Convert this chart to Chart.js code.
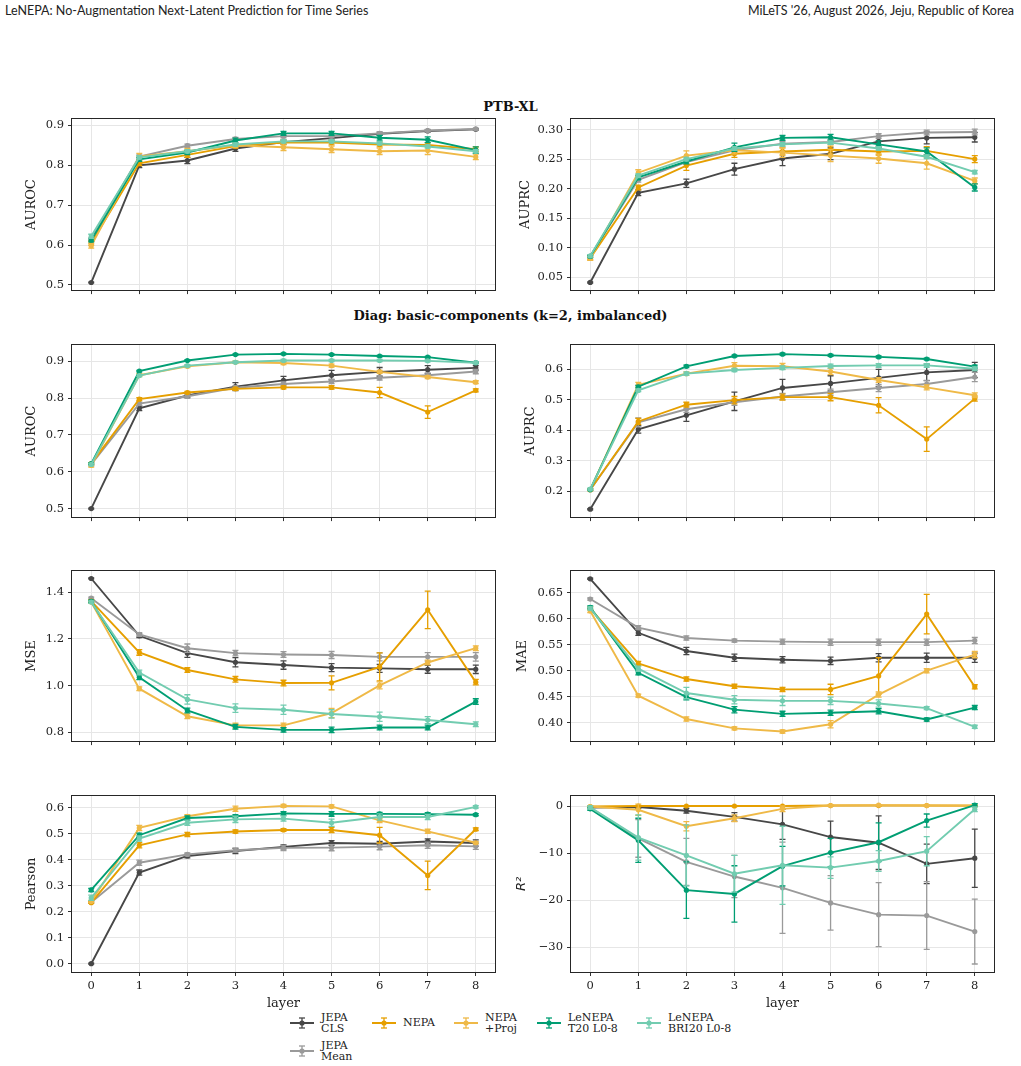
<!DOCTYPE html>
<html>
<head>
<meta charset="utf-8">
<script src="https://cdn.jsdelivr.net/npm/chart.js@4.4.1/dist/chart.umd.min.js"></script>
<style>
  body { margin: 0; background: #fff; width: 1021px; height: 1066px; position: relative; overflow: hidden; }
  .hdr { position: absolute; top: 3px; font-family: Lato, sans-serif; font-size: 12.5px; color: #222; white-space: nowrap; }
  .sec { position: absolute; left: 0; width: 1021px; text-align: center; font-family: 'DejaVu Serif', serif; font-weight: bold; font-size: 13px; color: #111; }
  canvas { position: absolute; }
  .leg { position: absolute; font-family: 'DejaVu Serif', serif; font-size: 11px; line-height: 11.5px; color: #222; white-space: nowrap; }
  .ico { position: absolute; }
</style>
</head>
<body>
<div class="hdr" style="left:5px">LeNEPA: No-Augmentation Next-Latent Prediction for Time Series</div>
<div class="hdr" style="right:7px">MiLeTS '26, August 2026, Jeju, Republic of Korea</div>
<div class="sec" style="top:99px">PTB-XL</div>
<div class="sec" style="top:308px">Diag: basic-components (k=2, imbalanced)</div>
<div id="legend"></div>

<script>
// --- datos ---
const layers = [0, 1, 2, 3, 4, 5, 6, 7, 8];
const seriesNames = ['JEPA\nCLS', 'JEPA\nMean', 'NEPA', 'NEPA\n+Proj', 'LeNEPA\nT20 L0-8', 'LeNEPA\nBRI20 L0-8'];
const seriesColors = ['#474747', '#9a9a9a', '#E69F00', '#EFB947', '#009E73', '#72CCB0'];
const serif = "'DejaVu Serif', serif";

// orden de filas: JEPA CLS, JEPA Mean, NEPA, NEPA+Proj, LeNEPA T20, LeNEPA BRI20
const ptbAuroc = [
  [0.506, 0.800, 0.812, 0.842, 0.858, 0.868, 0.879, 0.886, 0.890],
  [0.615, 0.822, 0.849, 0.866, 0.873, 0.873, 0.880, 0.887, 0.891],
  [0.605, 0.805, 0.826, 0.848, 0.857, 0.857, 0.852, 0.851, 0.840],
  [0.598, 0.822, 0.835, 0.850, 0.845, 0.840, 0.835, 0.837, 0.821],
  [0.612, 0.815, 0.832, 0.862, 0.880, 0.880, 0.869, 0.864, 0.838],
  [0.622, 0.820, 0.835, 0.852, 0.860, 0.860, 0.855, 0.847, 0.835]
];
const ptbAurocErr = [
  [0.001, 0.006, 0.008, 0.007, 0.005, 0.005, 0.004, 0.003, 0.002],
  [0.003, 0.004, 0.004, 0.004, 0.004, 0.004, 0.003, 0.003, 0.002],
  [0.005, 0.006, 0.006, 0.005, 0.006, 0.006, 0.006, 0.005, 0.006],
  [0.006, 0.008, 0.007, 0.006, 0.008, 0.008, 0.008, 0.010, 0.007],
  [0.004, 0.005, 0.005, 0.006, 0.005, 0.005, 0.006, 0.007, 0.008],
  [0.005, 0.004, 0.004, 0.004, 0.004, 0.004, 0.004, 0.004, 0.004]
];
const ptbAuprc = [
  [0.041, 0.193, 0.209, 0.233, 0.251, 0.259, 0.280, 0.286, 0.287],
  [0.085, 0.215, 0.245, 0.265, 0.276, 0.279, 0.289, 0.295, 0.296],
  [0.082, 0.202, 0.239, 0.259, 0.263, 0.266, 0.263, 0.264, 0.250],
  [0.082, 0.227, 0.256, 0.265, 0.261, 0.256, 0.251, 0.243, 0.213],
  [0.085, 0.219, 0.246, 0.270, 0.286, 0.287, 0.275, 0.263, 0.202],
  [0.086, 0.222, 0.250, 0.268, 0.275, 0.278, 0.268, 0.254, 0.228]
];
const ptbAuprcErr = [
  [0.001, 0.005, 0.007, 0.010, 0.012, 0.010, 0.008, 0.010, 0.008],
  [0.002, 0.004, 0.004, 0.004, 0.004, 0.004, 0.004, 0.004, 0.005],
  [0.003, 0.004, 0.008, 0.006, 0.006, 0.006, 0.006, 0.007, 0.006],
  [0.003, 0.005, 0.008, 0.006, 0.008, 0.010, 0.008, 0.010, 0.005],
  [0.002, 0.004, 0.004, 0.007, 0.004, 0.005, 0.006, 0.006, 0.006],
  [0.002, 0.003, 0.003, 0.003, 0.003, 0.003, 0.003, 0.003, 0.003]
];
const diagAuroc = [
  [0.500, 0.772, 0.807, 0.831, 0.848, 0.862, 0.871, 0.877, 0.882],
  [0.620, 0.785, 0.805, 0.828, 0.838, 0.845, 0.855, 0.862, 0.872],
  [0.622, 0.797, 0.815, 0.825, 0.829, 0.829, 0.815, 0.762, 0.821],
  [0.617, 0.862, 0.886, 0.897, 0.895, 0.888, 0.871, 0.857, 0.843],
  [0.622, 0.873, 0.902, 0.918, 0.920, 0.918, 0.914, 0.911, 0.896],
  [0.620, 0.861, 0.888, 0.897, 0.902, 0.902, 0.902, 0.901, 0.896]
];
const diagAurocErr = [
  [0.001, 0.006, 0.005, 0.011, 0.011, 0.013, 0.012, 0.011, 0.006],
  [0.003, 0.004, 0.006, 0.006, 0.006, 0.006, 0.006, 0.006, 0.006],
  [0.003, 0.004, 0.003, 0.004, 0.004, 0.005, 0.014, 0.017, 0.004],
  [0.004, 0.004, 0.003, 0.003, 0.004, 0.004, 0.004, 0.004, 0.004],
  [0.002, 0.002, 0.002, 0.002, 0.002, 0.002, 0.002, 0.002, 0.002],
  [0.003, 0.003, 0.003, 0.003, 0.003, 0.003, 0.003, 0.003, 0.003]
];
const diagAuprc = [
  [0.141, 0.403, 0.449, 0.495, 0.539, 0.554, 0.572, 0.590, 0.598],
  [0.205, 0.426, 0.469, 0.492, 0.511, 0.525, 0.539, 0.552, 0.575],
  [0.205, 0.429, 0.484, 0.499, 0.509, 0.509, 0.482, 0.371, 0.504],
  [0.205, 0.549, 0.586, 0.612, 0.610, 0.593, 0.565, 0.541, 0.515],
  [0.205, 0.543, 0.610, 0.644, 0.650, 0.646, 0.641, 0.634, 0.609],
  [0.207, 0.531, 0.586, 0.598, 0.605, 0.611, 0.613, 0.613, 0.602]
];
const diagAuprcErr = [
  [0.002, 0.012, 0.020, 0.030, 0.028, 0.025, 0.028, 0.027, 0.025],
  [0.003, 0.015, 0.010, 0.010, 0.010, 0.010, 0.012, 0.012, 0.015],
  [0.003, 0.010, 0.008, 0.012, 0.010, 0.012, 0.025, 0.040, 0.008],
  [0.003, 0.008, 0.006, 0.010, 0.010, 0.010, 0.008, 0.008, 0.008],
  [0.002, 0.004, 0.004, 0.003, 0.003, 0.003, 0.003, 0.003, 0.005],
  [0.003, 0.004, 0.005, 0.005, 0.006, 0.006, 0.006, 0.006, 0.006]
];
const diagMse = [
  [1.458, 1.213, 1.139, 1.100, 1.088, 1.077, 1.074, 1.070, 1.070],
  [1.374, 1.219, 1.160, 1.139, 1.133, 1.131, 1.123, 1.123, 1.123],
  [1.361, 1.142, 1.067, 1.027, 1.011, 1.012, 1.080, 1.324, 1.015],
  [1.357, 0.987, 0.869, 0.830, 0.830, 0.883, 1.001, 1.099, 1.160],
  [1.360, 1.036, 0.894, 0.824, 0.811, 0.811, 0.821, 0.821, 0.932],
  [1.357, 1.056, 0.941, 0.904, 0.897, 0.879, 0.867, 0.853, 0.835]
];
const diagMseErr = [
  [0.002, 0.008, 0.018, 0.020, 0.018, 0.017, 0.017, 0.017, 0.018],
  [0.004, 0.008, 0.018, 0.012, 0.012, 0.015, 0.017, 0.018, 0.018],
  [0.005, 0.012, 0.010, 0.012, 0.012, 0.030, 0.060, 0.080, 0.012],
  [0.005, 0.008, 0.010, 0.010, 0.010, 0.020, 0.015, 0.010, 0.010],
  [0.005, 0.010, 0.010, 0.010, 0.010, 0.012, 0.010, 0.010, 0.012],
  [0.005, 0.010, 0.020, 0.018, 0.020, 0.018, 0.020, 0.015, 0.010]
];
const diagMae = [
  [0.677, 0.573, 0.538, 0.525, 0.521, 0.519, 0.525, 0.525, 0.525],
  [0.638, 0.583, 0.563, 0.558, 0.556, 0.555, 0.555, 0.555, 0.558],
  [0.620, 0.514, 0.484, 0.470, 0.464, 0.464, 0.490, 0.609, 0.469],
  [0.615, 0.452, 0.407, 0.389, 0.383, 0.397, 0.454, 0.500, 0.531],
  [0.622, 0.496, 0.449, 0.425, 0.417, 0.419, 0.422, 0.406, 0.429],
  [0.620, 0.504, 0.457, 0.444, 0.442, 0.442, 0.437, 0.428, 0.392]
];
const diagMaeErr = [
  [0.001, 0.005, 0.007, 0.007, 0.006, 0.007, 0.008, 0.009, 0.009],
  [0.002, 0.004, 0.004, 0.003, 0.005, 0.006, 0.006, 0.006, 0.006],
  [0.003, 0.004, 0.004, 0.004, 0.004, 0.010, 0.035, 0.038, 0.004],
  [0.003, 0.003, 0.004, 0.003, 0.003, 0.007, 0.005, 0.004, 0.006],
  [0.003, 0.004, 0.005, 0.006, 0.005, 0.005, 0.005, 0.003, 0.004],
  [0.003, 0.005, 0.011, 0.008, 0.009, 0.007, 0.007, 0.003, 0.003]
];
const diagPearson = [
  [0.000, 0.351, 0.415, 0.434, 0.450, 0.465, 0.462, 0.471, 0.465],
  [0.237, 0.389, 0.421, 0.437, 0.446, 0.447, 0.451, 0.456, 0.452],
  [0.235, 0.456, 0.498, 0.509, 0.515, 0.515, 0.495, 0.340, 0.518],
  [0.240, 0.523, 0.568, 0.597, 0.608, 0.606, 0.552, 0.510, 0.466],
  [0.284, 0.495, 0.561, 0.568, 0.579, 0.577, 0.577, 0.576, 0.574],
  [0.254, 0.482, 0.543, 0.556, 0.559, 0.543, 0.565, 0.565, 0.604]
];
const diagPearsonErr = [
  [0.002, 0.010, 0.007, 0.010, 0.008, 0.009, 0.009, 0.010, 0.012],
  [0.003, 0.010, 0.006, 0.008, 0.010, 0.012, 0.012, 0.012, 0.012],
  [0.003, 0.010, 0.008, 0.006, 0.005, 0.010, 0.030, 0.055, 0.005],
  [0.004, 0.010, 0.006, 0.010, 0.006, 0.006, 0.008, 0.008, 0.004],
  [0.006, 0.008, 0.008, 0.006, 0.007, 0.009, 0.006, 0.006, 0.004],
  [0.010, 0.010, 0.010, 0.012, 0.010, 0.014, 0.012, 0.010, 0.005]
];
const diagR2 = [
  [-0.3, -0.2, -1.0, -2.3, -3.9, -6.6, -7.8, -12.3, -11.1],
  [-0.3, -6.9, -11.9, -15.0, -17.4, -20.6, -23.1, -23.3, -26.7],
  [-0.1, 0.0, 0.0, 0.0, 0.0, 0.1, 0.1, 0.1, 0.1],
  [-0.1, -0.8, -4.3, -2.6, -0.6, 0.1, 0.2, 0.1, 0.0],
  [-0.6, -7.3, -17.9, -18.7, -12.8, -9.9, -7.7, -3.1, 0.2],
  [-0.3, -6.7, -10.5, -14.4, -12.6, -13.1, -11.7, -9.6, -0.7]
];
const diagR2Err = [
  [0.1, 0.3, 0.5, 0.9, 3.2, 3.4, 5.7, 4.2, 6.2],
  [0.2, 4.0, 5.0, 4.5, 9.7, 5.8, 6.8, 7.2, 6.9],
  [0.1, 0.1, 0.1, 0.1, 0.1, 0.1, 0.1, 0.1, 0.1],
  [0.1, 1.2, 1.0, 0.7, 0.6, 0.1, 0.1, 0.1, 0.1],
  [0.3, 4.7, 6.0, 6.0, 4.2, 3.0, 4.1, 1.4, 0.3],
  [0.3, 4.8, 6.5, 3.9, 8.3, 2.3, 2.2, 3.1, 0.5]
];

// --- paneles (posiciones del área de trazado en px) ---
const panels = [
  { vals: ptbAuroc, errs: ptbAurocErr, title: 'AUROC', l: 72, t: 119, r: 495, b: 295, min: 0.487, max: 0.916, step: 0.1, dec: 1, dist: 40 },
  { vals: ptbAuprc, errs: ptbAuprcErr, title: 'AUPRC', l: 571, t: 119, r: 994, b: 295, min: 0.028, max: 0.318, step: 0.05, dec: 2, dist: 45 },
  { vals: diagAuroc, errs: diagAurocErr, title: 'AUROC', l: 72, t: 345, r: 495, b: 522, min: 0.477, max: 0.944, step: 0.1, dec: 1, dist: 40 },
  { vals: diagAuprc, errs: diagAuprcErr, title: 'AUPRC', l: 571, t: 345, r: 994, b: 522, min: 0.115, max: 0.68, step: 0.1, dec: 1, dist: 40 },
  { vals: diagMse, errs: diagMseErr, title: 'MSE', l: 72, t: 571, r: 495, b: 746, min: 0.763, max: 1.49, step: 0.2, dec: 1, dist: 40 },
  { vals: diagMae, errs: diagMaeErr, title: 'MAE', l: 571, t: 571, r: 994, b: 746, min: 0.3645, max: 0.692, step: 0.05, dec: 2, dist: 48 },
  { vals: diagPearson, errs: diagPearsonErr, title: 'Pearson', l: 72, t: 796, r: 495, b: 972, min: -0.032, max: 0.646, step: 0.1, dec: 1, dist: 40, bottom: true },
  { vals: diagR2, errs: diagR2Err, title: 'R²', l: 571, t: 796, r: 994, b: 972, min: -35.3, max: 2.13, step: 10, dec: 0, dist: 49, bottom: true, italic: true }
];

// barras de error, dibujadas justo antes de cada serie
const errorBars = {
  id: 'errorBars',
  beforeDatasetDraw(chart, args) {
    const ds = chart.data.datasets[args.index];
    if (!ds.errs) return;
    const { ctx, scales: { x, y }, chartArea: a } = chart;
    ctx.save();
    ctx.beginPath();
    ctx.rect(a.left, a.top, a.width, a.height);
    ctx.clip();
    ctx.strokeStyle = ds.borderColor;
    ctx.lineWidth = 1.3;
    ds.data.forEach((pt, i) => {
      const px = x.getPixelForValue(pt.x);
      const y1 = y.getPixelForValue(pt.y - ds.errs[i]);
      const y2 = y.getPixelForValue(pt.y + ds.errs[i]);
      ctx.beginPath();
      ctx.moveTo(px, y1); ctx.lineTo(px, y2);
      ctx.moveTo(px - 3, y1); ctx.lineTo(px + 3, y1);
      ctx.moveTo(px - 3, y2); ctx.lineTo(px + 3, y2);
      ctx.stroke();
    });
    ctx.restore();
  }
};

// marco completo alrededor del área
const frame = {
  id: 'frame',
  afterDraw(chart) {
    const { ctx, chartArea: a } = chart;
    ctx.save();
    ctx.strokeStyle = '#262626';
    ctx.lineWidth = 1;
    ctx.strokeRect(Math.round(a.left) - 0.5, Math.round(a.top) - 0.5, Math.round(a.width) + 1, Math.round(a.height) + 1);
    ctx.restore();
  }
};

function fmtTick(v, dec) {
  return v.toFixed(dec).replace('-', '\u2212');
}

function makePanel(p) {
  const W = Math.round(p.dist + 7.8);
  const padT = 12, padR = 12;
  const H = p.bottom ? 39 : 6;
  const cw = (p.r - p.l) + W + padR;
  const ch = (p.b - p.t) + padT + H;
  const cv = document.createElement('canvas');
  cv.width = cw; cv.height = ch;
  cv.style.left = (p.l - W) + 'px';
  cv.style.top = (p.t - padT) + 'px';
  cv.style.width = cw + 'px';
  cv.style.height = ch + 'px';
  document.body.appendChild(cv);

  const datasets = p.vals.map((row, i) => ({
    label: seriesNames[i],
    data: layers.map((l, j) => ({ x: l, y: row[j] })),
    errs: p.errs[i],
    borderColor: seriesColors[i],
    backgroundColor: seriesColors[i],
    pointBackgroundColor: seriesColors[i],
    pointBorderWidth: 0,
    pointRadius: 2.6,
    borderWidth: 1.9,
    tension: 0,
    order: -i
  }));

  new Chart(cv, {
    type: 'line',
    data: { datasets },
    options: {
      responsive: false,
      animation: false,
      layout: { padding: { left: 0, top: padT, right: padR, bottom: 0 } },
      plugins: { legend: { display: false }, tooltip: { enabled: false } },
      scales: {
        x: {
          type: 'linear', min: -0.4, max: 8.4,
          afterFit: s => { s.height = H; },
          border: { display: false },
          grid: { color: '#e6e6e6', lineWidth: 1, tickColor: '#333', tickLength: 4 },
          ticks: { display: !!p.bottom, stepSize: 1, includeBounds: false, padding: 3,
                   color: '#222', font: { family: serif, size: 11.5 },
                   maxRotation: 0, autoSkip: false },
          title: { display: !!p.bottom, text: 'layer', color: '#222', padding: 0,
                   font: { family: serif, size: 13, lineHeight: 1.2 } }
        },
        y: {
          min: p.min, max: p.max,
          afterFit: s => { s.width = W; },
          border: { display: false },
          grid: { color: '#e6e6e6', lineWidth: 1, tickColor: '#333', tickLength: 4 },
          ticks: { stepSize: p.step, includeBounds: false, padding: 4, color: '#222',
                   font: { family: serif, size: 11.5 },
                   callback: v => fmtTick(v, p.dec) },
          title: { display: true, text: p.title, color: '#222', padding: 0,
                   font: p.italic
                     ? { family: "'DejaVu Sans', sans-serif", style: 'italic', size: 13, lineHeight: 1.2 }
                     : { family: serif, size: 13, lineHeight: 1.2 } }
        }
      }
    },
    plugins: [errorBars, frame]
  });
}

panels.forEach(makePanel);

// --- leyenda (5 columnas, 2 filas, por columnas) ---
const legendSlots = [
  { x: 290, y: 1023 }, { x: 290, y: 1051 }, { x: 372, y: 1023 },
  { x: 454, y: 1023 }, { x: 537, y: 1023 }, { x: 637, y: 1023 }
];
const legend = document.getElementById('legend');
seriesNames.forEach((name, i) => {
  const s = legendSlots[i];
  const c = seriesColors[i];
  const svg = `<svg class="ico" style="left:${s.x}px;top:${s.y - 7}px" width="24" height="14">
    <line x1="0" y1="7" x2="24" y2="7" stroke="${c}" stroke-width="2"/>
    <line x1="12" y1="2" x2="12" y2="12" stroke="${c}" stroke-width="1.3"/>
    <line x1="9" y1="2" x2="15" y2="2" stroke="${c}" stroke-width="1.3"/>
    <line x1="9" y1="12" x2="15" y2="12" stroke="${c}" stroke-width="1.3"/>
    <circle cx="12" cy="7" r="2.6" fill="${c}"/></svg>`;
  const lines = name.split('\n');
  const top = s.y - lines.length * 11.5 / 2;
  legend.innerHTML += svg +
    `<div class="leg" style="left:${s.x + 31}px;top:${top}px">${lines.join('<br>')}</div>`;
});
</script>
</body>
</html>
